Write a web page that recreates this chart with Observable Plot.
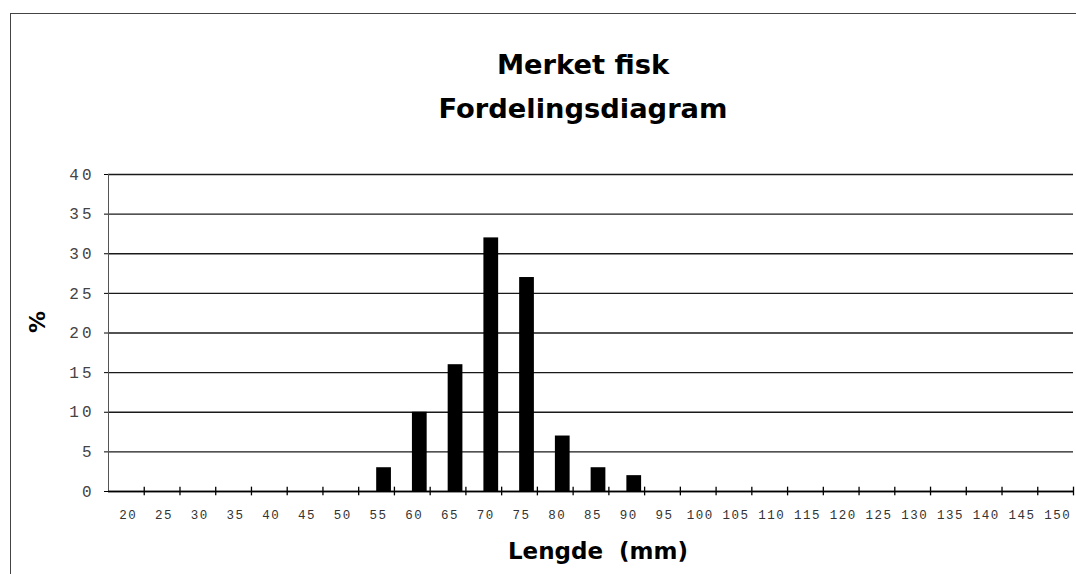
<!DOCTYPE html>
<html><head><meta charset="utf-8">
<script src="https://cdn.jsdelivr.net/npm/d3@7"></script>
<script src="https://cdn.jsdelivr.net/npm/@observablehq/plot@0.6"></script>
<style>
body{margin:0;background:#fff;}
#wrap{position:relative;width:1076px;height:574px;overflow:hidden;}
#frame{position:absolute;left:10px;top:13px;width:1100px;height:600px;border-left:1.5px solid #444;border-top:1.5px solid #444;pointer-events:none;}
g[aria-label="y-axis tick label"] text{letter-spacing:3px;}
g[aria-label="x-axis tick label"] text{letter-spacing:1.5px;}
</style></head><body>
<div id="wrap"><div id="frame"></div></div>
<script>
const lengths = [20,25,30,35,40,45,50,55,60,65,70,75,80,85,90,95,100,105,110,115,120,125,130,135,140,145,150];
const barLengths = [55,60,65,70,75,80,85,90];
const percents = [3,10,16,32,27,7,3,2];
const yTicks = [0,5,10,15,20,25,30,35,40];
const titleText = "Merket fisk\nFordelingsdiagram";
const xLabel = "Lengde  (mm)";
const yLabel = "%";

const step = lengths[1] - lengths[0];
const bars = barLengths.map((len, i) => ({len, pct: percents[i]}));
const xMin = lengths[0] - step / 2, xMax = lengths[lengths.length - 1] + step / 2;

const chart = Plot.plot({
  width: 1076,
  height: 574,
  marginTop: 174,
  marginBottom: 83,
  marginLeft: 108,
  marginRight: 3,
  style: {background: "transparent", color: "#111", fontFamily: "Liberation Mono"},
  x: {type: "linear", domain: [xMin, xMax]},
  y: {domain: [0, 40]},
  marks: [
    Plot.gridY(yTicks, {stroke: "#1a1a1a", strokeOpacity: 1, strokeWidth: 1.4}),
    Plot.ruleX([xMin], {y1: 0, y2: 40, stroke: "#555", strokeWidth: 1}),
    Plot.rectY(bars, {x1: d => d.len - step / 2, x2: d => d.len + step / 2, y: "pct", fill: "#000", insetLeft: 18, insetRight: 3}),
    Plot.ruleY([0], {stroke: "#000", strokeWidth: 1.5}),
    Plot.ruleX(lengths, {x: d => d + step / 2, y1: -0.55, y2: 0.55, stroke: "#000", strokeWidth: 1.3}),
    Plot.axisY(yTicks, {tickSize: 4, tickPadding: 10, fontSize: 16, fill: "#444", stroke: "#000", label: null}),
    Plot.axisX(lengths, {tickSize: 0, tickPadding: 19, fontSize: 12.5, fill: "#333", dx: 2, label: null}),
    Plot.text([titleText], {frameAnchor: "top", dx: -8, dy: -57, lineAnchor: "bottom", lineHeight: 1.61, fontSize: 27.3, fontWeight: "bold", fontFamily: "DejaVu Sans", fill: "#000"}),
    Plot.text([xLabel], {frameAnchor: "bottom", dx: 7, dy: 67, lineAnchor: "bottom", fontSize: 23, fontWeight: "bold", fontFamily: "DejaVu Sans", fill: "#000"}),
    Plot.text([yLabel], {frameAnchor: "left", dx: -71, rotate: -90, fontSize: 22, fontWeight: "bold", fontFamily: "DejaVu Sans", fill: "#000"})
  ]
});
document.getElementById("wrap").prepend(chart);
chart.querySelectorAll("text").forEach(t => { if (t.textContent.includes("  ")) t.style.whiteSpace = "pre"; });
</script>
</body></html>
